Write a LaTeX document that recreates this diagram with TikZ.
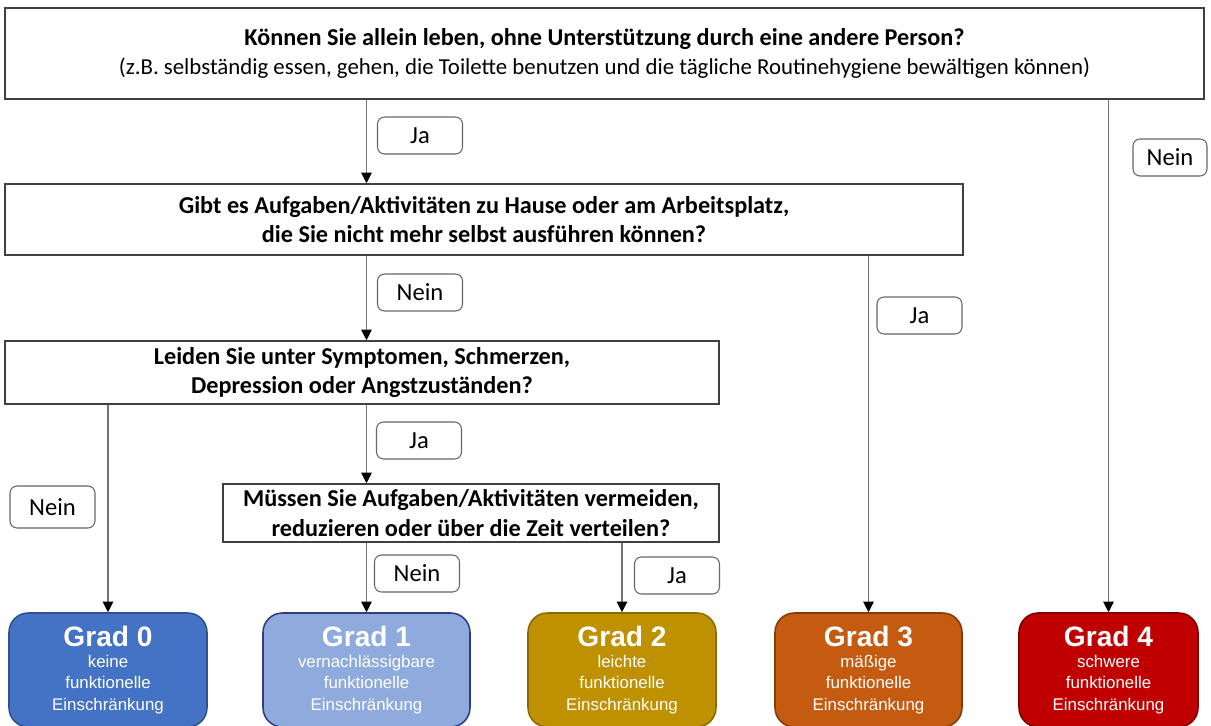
\documentclass[tikz,border=0pt]{standalone}
\usepackage{fontspec}
\setmainfont{Carlito}
\newfontfamily\gradefont{Liberation Sans}
\usepackage{tikz}
\usetikzlibrary{arrows.meta}

\definecolor{gradzero}{HTML}{4472C4}
\definecolor{gradzeroline}{HTML}{2F528F}
\definecolor{gradone}{HTML}{8FAADC}
\definecolor{gradoneline}{HTML}{34398A}
\definecolor{gradtwo}{HTML}{BF9000}
\definecolor{gradtwoline}{HTML}{8C6A00}
\definecolor{gradthree}{HTML}{C55A11}
\definecolor{gradthreeline}{HTML}{843C0C}
\definecolor{gradfour}{HTML}{C00000}
\definecolor{gradfourline}{HTML}{7F0000}

\tikzset{
  question/.style={draw=black!75, line width=0.9pt, align=center, inner sep=0pt,
    font=\fontsize{13.8}{17}\selectfont\bfseries},
  answer/.style={draw=black!60, line width=0.6pt, rounded corners=4pt, inner sep=0pt,
    minimum width=1.7cm, minimum height=0.74cm, font=\fontsize{14}{16}\selectfont},
  grade/.style={line width=0.9pt, rounded corners=11pt, text=white, align=center,
    inner sep=0pt, minimum height=2.28cm, font=\gradefont\fontsize{9.6}{12}\selectfont},
  flow/.style={draw=black!55, line width=0.6pt, ->}
}
\newcommand{\gradtitle}[1]{{\fontsize{16}{18}\selectfont\bfseries #1}}

\begin{document}
\begin{tikzpicture}[x=0.02cm, y=-0.02cm, >={Triangle[width=6pt,length=6pt,black]}]
        \clip (0,0) rectangle (1211,726);
        \fill[white] (0,0) rectangle (1211,726);

        % Questions
        \node[question, minimum width=23.98cm, minimum height=1.82cm] (live) at (604.5,53.5)
          {Können Sie allein leben, ohne Unterstützung durch eine andere Person?\\
           {\mdseries\fontsize{13}{17}\selectfont (z.B. selbständig essen, gehen, die Toilette benutzen und die tägliche Routinehygiene bewältigen können)}};
        \node[question, minimum width=19.16cm, minimum height=1.42cm] (tasks) at (484,219.5)
          {Gibt es Aufgaben/Aktivitäten zu Hause oder am Arbeitsplatz,\\
           die Sie nicht mehr selbst ausführen können?};
        \node[question, minimum width=14.28cm, minimum height=1.26cm] (symptoms) at (362,372.5)
          {Leiden Sie unter Symptomen, Schmerzen,\\
           Depression oder Angstzuständen?};
        \node[question, minimum width=9.92cm, minimum height=1.16cm] (avoid) at (471,513)
          {Müssen Sie Aufgaben/Aktivitäten vermeiden,\\
           reduzieren oder über die Zeit verteilen?};

        % Grades
        \node[grade, fill=gradzero, draw=gradzeroline, minimum width=3.96cm] (g0) at (108,670)
          {\gradtitle{Grad 0}\\keine\\funktionelle\\Einschränkung};
        \node[grade, fill=gradone, draw=gradoneline, minimum width=4.14cm] (g1) at (366.5,670)
          {\gradtitle{Grad 1}\\vernachlässigbare\\funktionelle\\Einschränkung};
        \node[grade, fill=gradtwo, draw=gradtwoline, minimum width=3.76cm] (g2) at (622,670)
          {\gradtitle{Grad 2}\\leichte\\funktionelle\\Einschränkung};
        \node[grade, fill=gradthree, draw=gradthreeline, minimum width=3.74cm] (g3) at (868.5,670)
          {\gradtitle{Grad 3}\\mäßige\\funktionelle\\Einschränkung};
        \node[grade, fill=gradfour, draw=gradfourline, minimum width=3.58cm] (g4) at (1108.5,670)
          {\gradtitle{Grad 4}\\schwere\\funktionelle\\Einschränkung};

        % Answers
        \node[answer] (liveyes) at (420,135.5) {Ja};
        \node[answer, minimum width=1.48cm] (liveno) at (1170,157.5) {Nein};
        \node[answer] (tasksno) at (420,292.5) {Nein};
        \node[answer] (tasksyes) at (919.5,315.5) {Ja};
        \node[answer, minimum height=0.84cm] (symptomsno) at (52.5,507) {Nein};
        \node[answer] (symptomsyes) at (419,440.5) {Ja};
        \node[answer] (avoidno) at (417,573.5) {Nein};
        \node[answer] (avoidyes) at (677,575.5) {Ja};

        % Connections
        \draw[flow] (live.south -| g1.north) -- (tasks.north -| g1.north);
        \draw[flow] (live.south -| g4.north) -- (g4.north);
        \draw[flow] (tasks.south -| g1.north) -- (symptoms.north -| g1.north);
        \draw[flow] (tasks.south -| g3.north) -- (g3.north);
        \draw[flow] (symptoms.south -| g0.north) -- (g0.north);
        \draw[flow] (symptoms.south -| g1.north) -- (avoid.north -| g1.north);
        \draw[flow] (avoid.south -| g1.north) -- (g1.north);
        \draw[flow] (avoid.south -| g2.north) -- (g2.north);

\end{tikzpicture}
\end{document}
